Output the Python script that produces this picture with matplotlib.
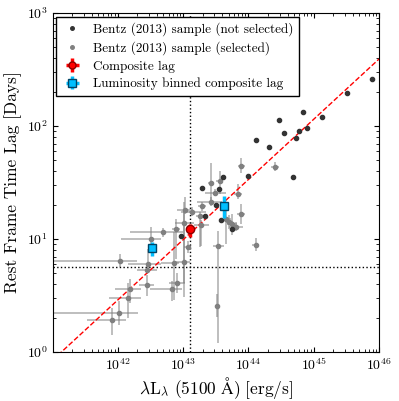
import numpy as np
import matplotlib
matplotlib.use('Agg')
import matplotlib.pyplot as plt

plt.rcParams['font.family'] = 'serif'
plt.rcParams['font.serif'] = ['cmr10']
plt.rcParams['mathtext.fontset'] = 'cm'
plt.rcParams['axes.formatter.use_mathtext'] = True
plt.rcParams['xtick.direction'] = 'in'
plt.rcParams['ytick.direction'] = 'in'
plt.rcParams['xtick.top'] = True
plt.rcParams['ytick.right'] = True

# Bentz (2013) sample, not selected (log L5100, log tau)
ns_logL = [45.89, 45.51, 45.12, 44.83, 44.89, 44.77, 44.73, 44.47, 44.55, 44.31, 44.11,
           43.99, 44.69, 43.61, 43.29, 43.55, 43.50, 43.33, 43.75, 42.97, 43.58]
ns_logtau = [2.42, 2.29, 2.08, 2.12, 1.98, 1.96, 1.89, 2.05, 1.94, 1.81, 1.88,
             1.56, 1.55, 1.55, 1.45, 1.44, 1.30, 1.20, 1.09, 1.03, 1.17]

# Bentz (2013) sample, selected, with asymmetric errors (dex)
s_logL = [43.89, 44.41, 43.43, 43.56, 43.49, 43.84, 43.42, 43.89, 43.29, 43.14, 43.26,
          43.03, 43.02, 43.28, 43.65, 43.75, 42.89, 42.69, 42.51, 43.07, 43.54, 44.11,
          42.03, 42.46, 42.86, 43.01, 42.45, 42.44, 42.18, 42.15, 42.91, 42.83, 42.02,
          41.91, 43.52, 43.81, 43.71]
s_logtau = [1.65, 1.64, 1.50, 1.51, 1.41, 1.40, 1.33, 1.22, 1.29, 1.24, 1.20,
            1.26, 1.14, 1.12, 1.18, 1.13, 1.09, 1.06, 1.00, 0.93, 0.94, 0.95,
            0.81, 0.78, 0.79, 0.80, 0.73, 0.59, 0.56, 0.48, 0.61, 0.56, 0.35,
            0.28, 0.41, 1.11, 1.15]
s_xlo = [0.05, 0.06, 0.05, 0.05, 0.15, 0.06, 0.20, 0.06, 0.06, 0.18, 0.06,
         0.12, 0.15, 0.12, 0.08, 0.08, 0.06, 0.50, 0.46, 0.05, 0.08, 0.05,
         1.02, 0.31, 0.20, 0.15, 0.15, 0.11, 0.23, 0.29, 0.12, 0.34, 1.02,
         0.38, 0.03, 0.10, 0.06]
s_xhi = [0.05, 0.06, 0.05, 0.05, 0.17, 0.06, 0.18, 0.06, 0.06, 0.21, 0.06,
         0.12, 0.15, 0.12, 0.08, 0.08, 0.06, 0.31, 0.15, 0.05, 0.08, 0.05,
         0.26, 0.20, 0.08, 0.09, 0.15, 0.11, 0.18, 0.20, 0.12, 0.15, 0.29,
         0.21, 0.03, 0.10, 0.06]
s_ylo = [0.07, 0.04, 0.18, 0.11, 0.03, 0.05, 0.04, 0.09, 0.04, 0.04, 0.27,
         0.04, 0.53, 0.18, 0.22, 0.09, 0.27, 0.04, 0.05, 0.05, 0.86, 0.06,
         0.06, 0.04, 0.33, 0.31, 0.04, 0.09, 0.13, 0.18, 0.09, 0.11, 0.11,
         0.13, 0.10, 0.04, 0.06]
s_yhi = [0.07, 0.04, 0.17, 0.09, 0.03, 0.09, 0.04, 0.09, 0.04, 0.04, 0.04,
         0.11, 0.12, 0.05, 0.09, 0.09, 0.09, 0.04, 0.11, 0.05, 0.13, 0.06,
         0.06, 0.13, 0.27, 0.53, 0.04, 0.09, 0.09, 0.13, 0.09, 0.07, 0.10,
         0.11, 0.10, 0.04, 0.06]

# composite lag
comp_logL = 43.11
comp_logtau = 1.086
comp_ylo, comp_yhi = 0.07, 0.05

# luminosity binned composite lags
bin_logL = [42.53, 43.62]
bin_logtau = [0.92, 1.29]
bin_ylo = [0.07, 0.10]
bin_yhi = [0.05, 0.09]

# Bentz et al. 2013 R-L relation
K, alpha = 1.527, 0.533
tau_limit = 5.7


def asym(logv, lo, hi):
    logv = np.asarray(logv)
    v = 10 ** logv
    return v, np.vstack([v - 10 ** (logv - np.asarray(lo)), 10 ** (logv + np.asarray(hi)) - v])


fig = plt.figure(figsize=(3.99, 4.01), dpi=100)
ax = fig.add_axes([0.1316, 0.122, 0.8184, 0.8456])

sx, sxe = asym(s_logL, s_xlo, s_xhi)
sy, sye = asym(s_logtau, s_ylo, s_yhi)
ax.errorbar(sx, sy, xerr=sxe, yerr=sye, fmt='none', ecolor='gray', alpha=0.6,
            elinewidth=1.2, capsize=0)
ax.plot(sx, sy, 'o', color='gray', ms=3, mec='gray',
        label='Bentz (2013) sample (selected)', zorder=3)
ax.plot(10 ** np.array(ns_logL), 10 ** np.array(ns_logtau), 'o', color='#333333',
        ms=3, mec='#333333', label='Bentz (2013) sample (not selected)', zorder=3)

xl = np.array([1e41, 1e46])
ax.plot(xl, 10 ** (K + alpha * np.log10(xl / 1e44)), '--', color='red', lw=1, zorder=2)
ax.axvline(10 ** comp_logL, color='k', ls=':', lw=1)
ax.axhline(tau_limit, color='k', ls=':', lw=1)

cx, cxe = asym([comp_logL], [0.02], [0.02])
cy, cye = asym([comp_logtau], [comp_ylo], [comp_yhi])
ax.errorbar(cx, cy, xerr=cxe, yerr=cye, fmt='o', color='red', mec='darkred',
            ecolor='red', ms=6, elinewidth=2.5, capsize=0, label='Composite lag', zorder=5)

bx, bxe = asym(bin_logL, [0.02, 0.02], [0.02, 0.02])
by, bye = asym(bin_logtau, bin_ylo, bin_yhi)
ax.errorbar(bx, by, xerr=bxe, yerr=bye, fmt='s', color='#00bfff', mec='#004466',
            ecolor='#00bfff', ms=6, elinewidth=2.5, capsize=0,
            label='Luminosity binned composite lag', zorder=5)

ax.set_xscale('log')
ax.set_yscale('log')
ax.set_xlim(1e41, 1e46)
ax.set_ylim(1, 1e3)
ax.set_xticks([1e42, 1e43, 1e44, 1e45, 1e46])
ax.tick_params(labelsize=10)
ax.set_xlabel(r'$\lambda\mathrm{L}_\lambda\ \mathrm{(5100\ \AA)\ [erg/s]}$', fontsize=12.5,
              labelpad=1)
ax.set_ylabel('Rest Frame Time Lag [Days]', fontsize=12.5, labelpad=3)

h, l = ax.get_legend_handles_labels()
order = [l.index('Bentz (2013) sample (not selected)'), l.index('Bentz (2013) sample (selected)'),
         l.index('Composite lag'), l.index('Luminosity binned composite lag')]
leg = ax.legend([h[i] for i in order], [l[i] for i in order], loc='upper left',
                fontsize=9.5, numpoints=1, fancybox=False, framealpha=1,
                edgecolor='k', borderaxespad=0.3, handletextpad=0.8, handlelength=1.6,
                labelspacing=0.4, markerscale=0.85)
leg.get_frame().set_linewidth(1)

fig.savefig('out.png', dpi=100)
